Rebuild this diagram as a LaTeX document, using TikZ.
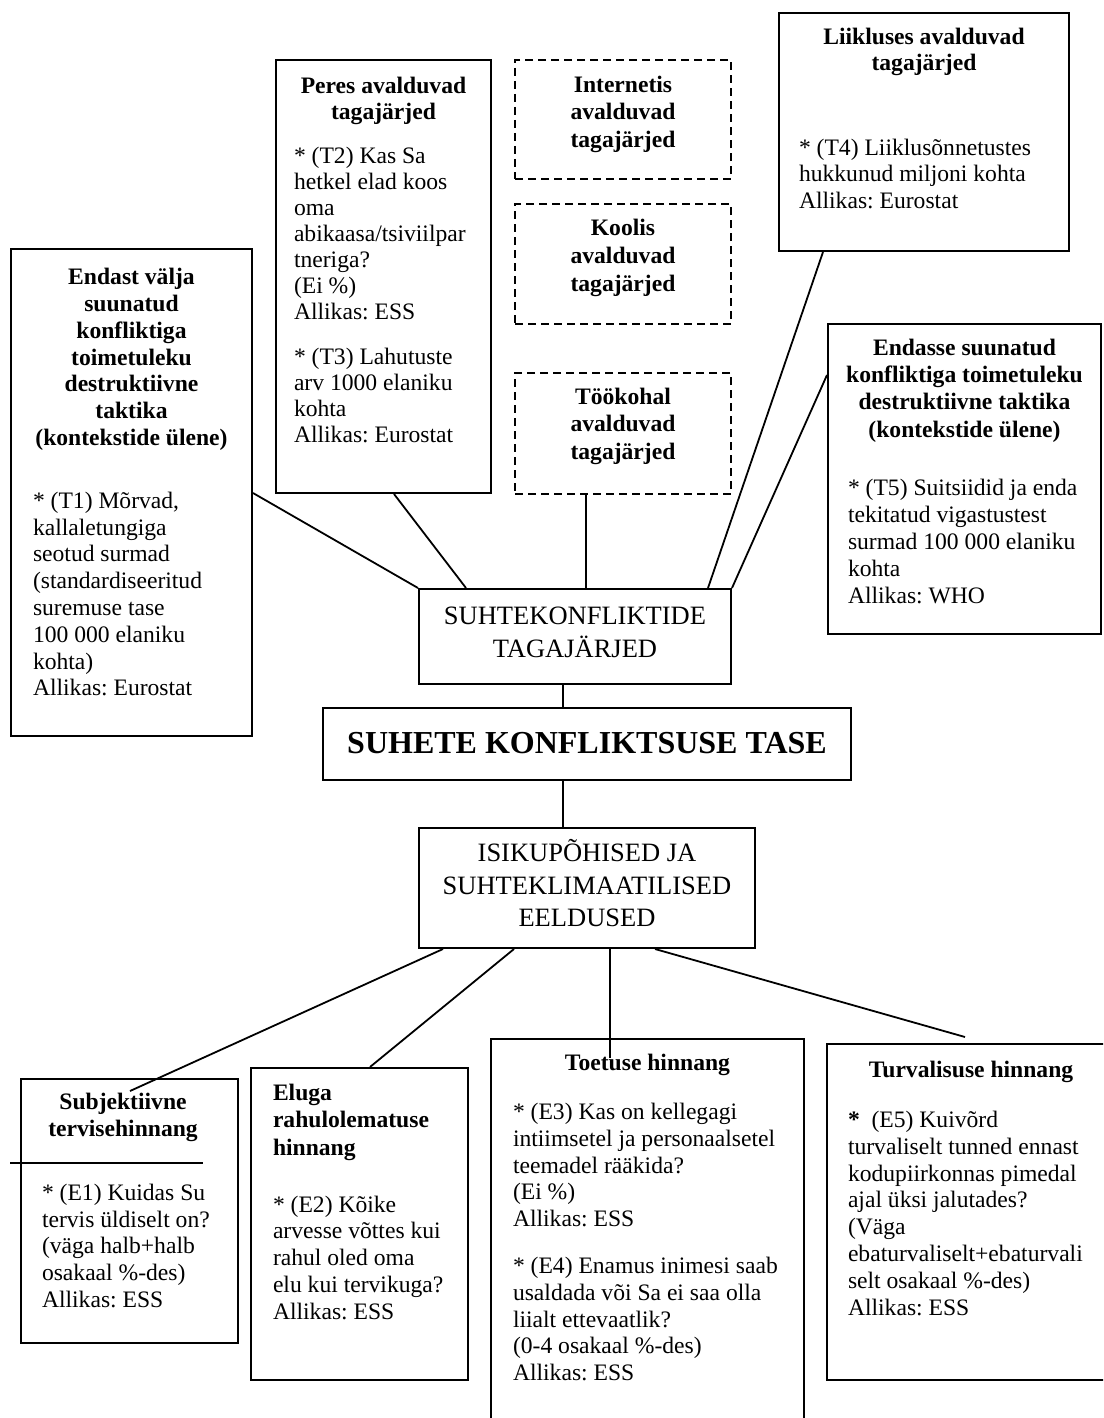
\documentclass[tikz,border=0pt]{standalone}
\usepackage{fontspec}
\setmainfont{Liberation Serif}
\frenchspacing
\newcommand\bx[4]{\begin{minipage}[c][#2][t]{#1}\vspace*{#3}#4\par\end{minipage}}
\newcommand\ttl{\bfseries\centering\strut}
\newcommand\bdy[1]{\mdseries\raggedright\leftskip=#1\relax\rightskip=0pt plus 1fil minus 30pt\relax\strut}
\newcommand\bodyfont{\fontsize{23.6}{26.8}\selectfont}
\begin{document}
\begin{tikzpicture}[x=1pt,y=-1pt,
  box/.style={draw, line width=2pt, inner sep=0pt, anchor=north west, font=\bodyfont},
  dbox/.style={box, dash pattern=on 8pt off 5pt},
  link/.style={line width=1.8pt}]
\useasboundingbox (0,0) rectangle (1103,1418);
\clip (0,0) rectangle (1103,1418);

% top row
\node[box] (T1) at (10,248) {\bx{241pt}{487pt}{17pt}{\ttl Endast välja\\suunatud\\konfliktiga\\toimetuleku\\destruktiivne\\taktika\\(kontekstide ülene)\par\vspace{36pt}\bdy{22pt}* (T1) Mõrvad,\\kallaletungiga\\seotud surmad\\(standardiseeritud\\suremuse tase\\100 000 elaniku\\kohta)\\Allikas: Eurostat}};

\node[box] (T2) at (275,59) {\bx{215pt}{433pt}{15pt}{\fontsize{23.6}{26}\selectfont\ttl Peres avalduvad\\tagajärjed\par\vspace{18pt}\bdy{18pt}* (T2) Kas Sa\\hetkel elad koos\\oma\\abikaasa/tsiviilpar\\tneriga?\\(Ei \%)\\Allikas: ESS\\[19pt]* (T3) Lahutuste\\arv 1000 elaniku\\kohta\\Allikas: Eurostat}};

\node[dbox] (Tnet) at (514,59) {\bx{216pt}{119pt}{13pt}{\fontsize{23.6}{27.5}\selectfont\ttl Internetis\\avalduvad\\tagajärjed}};
\node[dbox] (Tkool) at (514,203) {\bx{216pt}{120pt}{12pt}{\fontsize{23.6}{28}\selectfont\ttl Koolis\\avalduvad\\tagajärjed}};
\node[dbox] (Ttoo) at (514,372) {\bx{216pt}{121pt}{12pt}{\fontsize{23.6}{27.5}\selectfont\ttl Töökohal\\avalduvad\\tagajärjed}};

\node[box] (T4) at (778,12) {\bx{290pt}{238pt}{14pt}{\fontsize{23.6}{25.5}\selectfont\ttl Liikluses avalduvad\\tagajärjed\par\vspace{58pt}\fontsize{23.6}{26.8}\selectfont\bdy{20pt}* (T4) Liiklusõnnetustes\\hukkunud miljoni kohta\\Allikas: Eurostat}};

\node[box] (T5) at (827,323) {\bx{273pt}{310pt}{12pt}{\fontsize{23.6}{27.3}\selectfont\ttl Endasse suunatud\\konfliktiga toimetuleku\\destruktiivne taktika\\(kontekstide ülene)\par\vspace{31pt}\fontsize{23.6}{27}\selectfont\bdy{20pt}* (T5) Suitsiidid ja enda\\tekitatud vigastustest\\surmad 100 000 elaniku\\kohta\\Allikas: WHO}};

% centre column
\node[box] (C1) at (418,588) {\bx{312pt}{95pt}{12pt}{\fontsize{26.5}{33.5}\selectfont\centering\strut SUHTEKONFLIKTIDE\\TAGAJÄRJED}};
\node[box] (C2) at (322,707) {\bx{528pt}{72pt}{19pt}{\fontsize{32}{38}\selectfont\bfseries\centering\strut SUHETE KONFLIKTSUSE TASE}};
\node[box] (C3) at (418,827) {\bx{336pt}{120pt}{11pt}{\fontsize{26.5}{32.5}\selectfont\centering\strut ISIKUPÕHISED JA\\SUHTEKLIMAATILISED\\EELDUSED}};

% bottom row
\node[box] (E1) at (20,1078) {\bx{217pt}{264pt}{12pt}{\ttl\rightskip=13pt plus 1fil\relax Subjektiivne\\tervisehinnang\par\vspace{37pt}\bdy{21pt}* (E1) Kuidas Su\\tervis üldiselt on?\\(väga halb+halb\\osakaal \%-des)\\Allikas: ESS}};

\node[box] (E2) at (250,1067) {\bx{217pt}{312pt}{13pt}{\fontsize{23.6}{27.5}\selectfont\bfseries\raggedright\leftskip=22pt\relax\strut Eluga\\rahulolematuse\\hinnang\par\vspace{30pt}\fontsize{23.6}{26.8}\selectfont\bdy{22pt}* (E2) Kõike\\arvesse võttes kui\\rahul oled oma\\elu kui tervikuga?\\Allikas: ESS}};

\node[box] (E3) at (490,1038) {\bx{313pt}{400pt}{13pt}{\ttl Toetuse hinnang\par\vspace{22pt}\bdy{22pt}* (E3) Kas on kellegagi\\intiimsetel ja personaalsetel\\teemadel rääkida?\\(Ei \%)\\Allikas: ESS\\[20pt]* (E4) Enamus inimesi saab\\usaldada või Sa ei saa olla\\liialt ettevaatlik?\\(0-4 osakaal \%-des)\\Allikas: ESS}};

\node[box] (E5) at (826,1043) {\bx{288pt}{336pt}{15pt}{\ttl Turvalisuse hinnang\par\vspace{23pt}\bdy{21pt}{\bfseries *}\ \ (E5) Kuivõrd\\turvaliselt tunned ennast\\kodupiirkonnas pimedal\\ajal üksi jalutades?\\(Väga\\ebaturvaliselt+ebaturvali\\selt osakaal \%-des)\\Allikas: ESS}};

% connectors
\draw[link] ([yshift=-245pt]T1.north east) -- (C1.north west);
\draw[link] ([xshift=119pt]T2.south west) -- ([xshift=48pt]C1.north west);
\draw[link] ([xshift=72pt]Ttoo.south west) coordinate (tt) -- (tt |- C1.north);
\draw[link] ([xshift=45pt]T4.south west) -- ([xshift=-24pt]C1.north east);
\draw[link] ([yshift=-52pt]T5.north west) -- (C1.north east);
\draw[link] ([xshift=-12pt]C1.south) coordinate (v1) -- (v1 |- C2.north);
\draw[link] (v1 |- C2.south) -- (v1 |- C3.north);
\draw[link] ([xshift=25pt]C3.south west) -- ([xshift=110pt,yshift=-13pt]E1.north west);
\draw[link] ([xshift=96pt]C3.south west) -- ([xshift=120pt]E2.north west);
\draw[link] ([xshift=192pt]C3.south west) -- ([xshift=120pt,yshift=-20pt]E3.north west);
\draw[link] ([xshift=237pt]C3.south west) -- ([xshift=139pt,yshift=6pt]E5.north west);
\draw[link] ([xshift=-10pt,yshift=-85pt]E1.north west) coordinate (d1) -- ([xshift=183pt,yshift=-85pt]E1.north west);
\end{tikzpicture}
\end{document}
